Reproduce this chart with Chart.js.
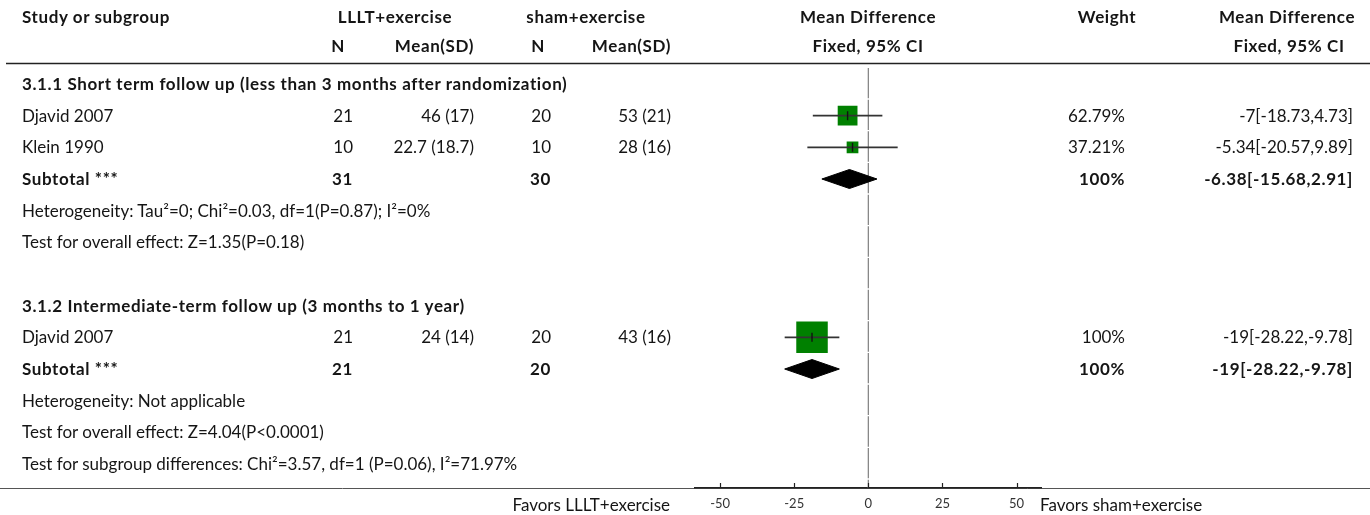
<!DOCTYPE html>
<html>
<head>
<meta charset="utf-8">
<script src="https://cdn.jsdelivr.net/npm/chart.js@4.4.1/dist/chart.umd.min.js"></script>
<style>
  html, body { margin: 0; padding: 0; background: #fff; }
  #wrap { position: relative; width: 1370px; height: 515px; overflow: hidden; }
  #forest { position: absolute; left: 0; top: 0; }
  .t { position: absolute; white-space: nowrap; font-family: Lato, "Noto Sans", sans-serif; font-size: 17px; line-height: 20px; color: #151515; }
  .b { font-weight: bold; letter-spacing: 0.6px; }
  .c { transform: translateX(-50%); }
</style>
</head>
<body>
<div id="wrap">
  <canvas id="forest" width="1370" height="515"></canvas>
</div>
<script>
// ── Data ────────────────────────────────────────────────────────────────────────
const headings    = ['3.1.1 Short term follow up (less than 3 months after randomization)',
                     '3.1.2 Intermediate-term follow up (3 months to 1 year)'];
const headingRows = [0, 7];

const studyNames = ['Djavid 2007', 'Klein 1990', 'Djavid 2007'];
const studyRows  = [1, 2, 8];
const n1         = [21, 10, 21];
const mean1      = ['46 (17)', '22.7 (18.7)', '24 (14)'];
const n2         = [20, 10, 20];
const mean2      = ['53 (21)', '28 (16)', '43 (16)'];
const md         = [-7, -5.34, -19];
const ciLow      = [-18.73, -20.57, -28.22];
const ciHigh     = [4.73, 9.89, -9.78];
const weights    = [62.79, 37.21, 100];

const subRows    = [3, 9];
const subN1      = [31, 21];
const subN2      = [30, 20];
const subMd      = [-6.38, -19];
const subLow     = [-15.68, -28.22];
const subHigh    = [2.91, -9.78];
const subWeights = [100, 100];

const notes    = ['Heterogeneity: Tau²=0; Chi²=0.03, df=1(P=0.87); I²=0%',
                  'Test for overall effect: Z=1.35(P=0.18)',
                  'Heterogeneity: Not applicable',
                  'Test for overall effect: Z=4.04(P<0.0001)',
                  'Test for subgroup differences: Chi²=3.57, df=1 (P=0.06), I²=71.97%'];
const noteRows = [4, 5, 10, 11, 12];

const xTicks = [-50, -25, 0, 25, 50];
const favorsLeft  = 'Favors LLLT+exercise';
const favorsRight = 'Favors sham+exercise';

// ── Layout ──────────────────────────────────────────────────────────────────────
const X_MIN = -58.5, X_MAX = 58.5;
const ROW_TOP = -0.505, ROW_BOTTOM = 12.757;
const GREEN = '#008000';

function ciText(m, lo, hi) { return `${m}[${lo},${hi}]`; }

// squares
const squareData = md.map((m, i) => ({ x: m, y: studyRows[i] }));
const squareRadius = weights.map(w => (w * 0.315) / Math.SQRT2);

// CI lines, one dataset each
const ciDatasets = md.map((m, i) => ({
    type: 'scatter',
    data: [{ x: ciLow[i], y: studyRows[i] }, { x: ciHigh[i], y: studyRows[i] }],
    showLine: true,
    borderColor: '#333',
    borderWidth: 1.6,
    pointRadius: 0,
    order: 2
}));

// diamonds for subtotals
const diamondDatasets = subMd.map((m, i) => {
    const r = subRows[i];
    return {
        type: 'scatter',
        data: [{ x: subLow[i], y: r }, { x: m, y: r - 0.3 }, { x: subHigh[i], y: r },
               { x: m, y: r + 0.3 }, { x: subLow[i], y: r }],
        showLine: true,
        fill: 'shape',
        backgroundColor: '#000',
        borderColor: '#000',
        borderWidth: 1,
        pointRadius: 0,
        order: 2
    };
});

const chartFrame = {
    id: 'chartFrame',
    beforeDraw(chart) {
        const { ctx, width } = chart;
        const xs = chart.scales.x;
        ctx.save();
        ctx.strokeStyle = '#222';
        ctx.lineWidth = 1.6;
        ctx.beginPath();
        ctx.moveTo(6, 63.5); ctx.lineTo(width, 63.5);
        ctx.stroke();
        ctx.strokeStyle = '#555';
        ctx.lineWidth = 1;
        ctx.beginPath();
        ctx.moveTo(0, xs.top + 0.5); ctx.lineTo(width, xs.top + 0.5);
        ctx.stroke();
        ctx.restore();
    },
    afterDraw(chart) {
        const { ctx } = chart;
        const xs = chart.scales.x;
        ctx.save();
        ctx.strokeStyle = '#222';
        ctx.lineWidth = 1.2;
        xs.ticks.forEach((t, i) => {
            const px = Math.round(xs.getPixelForTick(i)) + 0.5;
            ctx.beginPath();
            ctx.moveTo(px, xs.top);
            ctx.lineTo(px, xs.top - 5);
            ctx.stroke();
        });
        ctx.restore();
    }
};

const chart = new Chart(document.getElementById('forest'), {
    type: 'scatter',
    data: {
        datasets: [
            {   // zero line
                data: [{ x: 0, y: ROW_TOP }, { x: 0, y: ROW_BOTTOM }],
                showLine: true,
                borderColor: '#888',
                borderWidth: 1.3,
                borderDash: [30.3, 1.37],
                pointRadius: 0,
                order: 5
            },
            {   // study squares
                data: squareData,
                pointStyle: 'rect',
                pointRadius: squareRadius,
                backgroundColor: GREEN,
                borderWidth: 0,
                order: 3
            },
            ...ciDatasets,
            ...diamondDatasets,
            {   // point estimate marks
                data: squareData,
                pointStyle: 'line',
                rotation: 90,
                pointRadius: 4.5,
                borderColor: '#111',
                borderWidth: 1.4,
                order: 1
            }
        ]
    },
    options: {
        responsive: false,
        animation: false,
        devicePixelRatio: 1,
        events: [],
        layout: { padding: { left: 694.9, right: 1370 - 1041.8, top: 68, bottom: 0 } },
        plugins: { legend: { display: false }, tooltip: { enabled: false } },
        scales: {
            x: {
                type: 'linear',
                min: X_MIN,
                max: X_MAX,
                afterBuildTicks: scale => { scale.ticks = xTicks.map(v => ({ value: v })); },
                afterFit: scale => { scale.height = 27; },
                grid: { display: true, drawOnChartArea: false, drawTicks: false },
                border: { display: true, color: '#222', width: 1.6 },
                ticks: { color: '#333', padding: 8, font: { family: 'Lato', size: 13 } }
            },
            y: {
                type: 'linear',
                display: false,
                reverse: true,
                min: ROW_TOP,
                max: ROW_BOTTOM
            }
        }
    },
    plugins: [chartFrame]
});

// ── Text table, placed on the chart's own row scale ─────────────────────────────
const wrap = document.getElementById('wrap');
const ys = chart.scales.y;

function put(text, x, row, align, bold) {
    const el = document.createElement('div');
    el.className = 't' + (bold ? ' b' : '') + (align === 'center' ? ' c' : '');
    el.textContent = text;
    const y = typeof row === 'number' ? ys.getPixelForValue(row) : row.px;
    el.style.top = (y - 10) + 'px';
    if (align === 'right') el.style.right = (1370 - x) + 'px';
    else el.style.left = x + 'px';
    wrap.appendChild(el);
}

// header rows
const H1 = { px: 17 }, H2 = { px: 46 };
put('Study or subgroup', 22, H1, 'left', true);
put('LLLT+exercise', 395, H1, 'center', true);
put('sham+exercise', 586, H1, 'center', true);
put('Mean Difference', 868, H1, 'center', true);
put('Weight', 1107, H1, 'center', true);
put('Mean Difference', 1287, H1, 'center', true);
put('N', 338, H2, 'center', true);
put('Mean(SD)', 474, H2, 'right', true);
put('N', 538, H2, 'center', true);
put('Mean(SD)', 671, H2, 'right', true);
put('Fixed, 95% CI', 868, H2, 'center', true);
put('Fixed, 95% CI', 1289, H2, 'center', true);

headings.forEach((h, i) => put(h, 22, headingRows[i], 'left', true));

studyNames.forEach((s, i) => {
    const r = studyRows[i];
    put(s, 22, r, 'left');
    put(String(n1[i]), 353, r, 'right');
    put(mean1[i], 474, r, 'right');
    put(String(n2[i]), 551, r, 'right');
    put(mean2[i], 671, r, 'right');
    put(weights[i] + '%', 1125, r, 'right');
    put(ciText(md[i], ciLow[i], ciHigh[i]), 1353, r, 'right');
});

subRows.forEach((r, i) => {
    put('Subtotal ***', 22, r, 'left', true);
    put(String(subN1[i]), 353, r, 'right', true);
    put(String(subN2[i]), 551, r, 'right', true);
    put(subWeights[i] + '%', 1125, r, 'right', true);
    put(ciText(subMd[i], subLow[i], subHigh[i]), 1353, r, 'right', true);
});

notes.forEach((n, i) => put(n, 22, noteRows[i], 'left'));

put(favorsLeft, 670, { px: 505 }, 'right');
put(favorsRight, 1040, { px: 505 }, 'left');
</script>
</body>
</html>
